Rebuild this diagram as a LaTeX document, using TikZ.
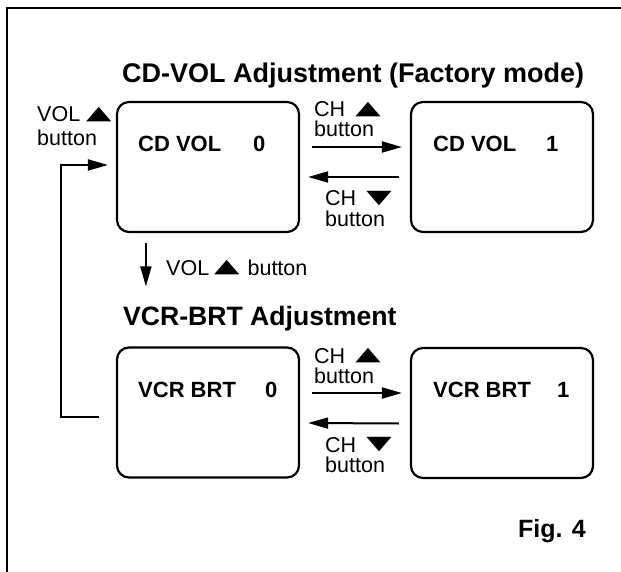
\documentclass[tikz,border=0pt]{standalone}
\usepackage{fontspec}
\setmainfont{Liberation Sans}
\newfontfamily\symfont{DejaVu Sans}
\usetikzlibrary{arrows.meta,calc}
\newcommand{\tup}{\raisebox{2.5pt}{\scalebox{1.65}[0.95]{\symfont\fontsize{20}{20}\selectfont ▲}}}
\newcommand{\tdn}{\raisebox{2.5pt}{\scalebox{1.65}[0.95]{\symfont\fontsize{20}{20}\selectfont ▼}}}
\begin{document}
\begin{tikzpicture}[x=1pt,y=-1pt,
  frame/.style={line width=2pt},
  box/.style={draw,line width=2.2pt,rounded corners=12pt,minimum width=182pt,minimum height=130pt,inner sep=0pt},
  txt/.style={inner sep=0pt,anchor=base west},
  title/.style={txt,font=\fontsize{27}{30}\selectfont\bfseries},
  boxtxt/.style={txt,font=\fontsize{22}{25}\selectfont\bfseries},
  lbl/.style={txt,font=\fontsize{21.5}{24}\selectfont,text height=15pt,text depth=3pt},
  arr/.style={line width=2pt,-{Triangle[length=20pt,width=11pt]}}]
\useasboundingbox (0,0) rectangle (621,572);
\draw[frame] (7,572) -- (7,8) -- (621,8);

% titles
\node[title] (t1) at (122,83) {CD-VOL Adjustment (Factory mode)};
\node[title,font=\fontsize{26.6}{30}\selectfont\bfseries] (t2) at (123,325) {VCR-BRT Adjustment};
\node[txt,font=\fontsize{25}{30}\selectfont\bfseries] (fig) at (518,537) {Fig. 4};

% boxes
\node[box] (cd0) at (208,167) {};
\node[box] (cd1) at (502,167) {};
\node[box] (vb0) at (208,412.5) {};
\node[box] (vb1) at (502,413) {};

% box texts
\node[boxtxt] (cd0a) at (138,152) {CD VOL};
\node[boxtxt] (cd0b) at (253,152) {0};
\node[boxtxt] (cd1a) at (433,152) {CD VOL};
\node[boxtxt] (cd1b) at (546,152) {1};
\node[boxtxt] (vb0a) at (138,397) {VCR BRT};
\node[boxtxt] (vb0b) at (265,397) {0};
\node[boxtxt] (vb1a) at (433,397) {VCR BRT};
\node[boxtxt] (vb1b) at (557,397) {1};

% labels
\node[lbl] (v1) at (37,122) {VOL\hspace{6pt}\tup};
\node[lbl] (v2) at (37,146) {button};
\node[lbl] (c1) at (314,117) {CH\hspace{10pt}\tup};
\node[lbl] (c2) at (314,137) {button};
\node[lbl] (c3) at (325,206) {CH\hspace{10pt}\tdn};
\node[lbl] (c4) at (325,226) {button};
\node[lbl] (d1) at (166,275) {VOL\hspace{5pt}\tup\hspace{8pt}button};
\node[lbl] (e1) at (314,363) {CH\hspace{10pt}\tup};
\node[lbl] (e2) at (314,383) {button};
\node[lbl] (e3) at (325,452) {CH\hspace{10pt}\tdn};
\node[lbl] (e4) at (325,472) {button};

% connectors
\draw[arr] ($(cd0.east)+(12,-20)$) -- ($(cd1.west)+(-8,-20)$);
\draw[arr] ($(cd1.west)+(-11,10)$) -- ($(cd0.east)+(8,10)$);
\draw[arr] ($(vb0.east)+(12,-19.5)$) -- ($(vb1.west)+(-8,-20)$);
\draw[arr] ($(vb1.west)+(-11,10.5)$) -- ($(vb0.east)+(8,10.5)$);
\draw[arr] ($(cd0.south west)+(30,10)$) -- ($(vb0.north west)+(30,-60)$);
\coordinate (lp) at (61,165);
\draw[arr] ($(vb0.west)+(-17,4.5)$) -| (lp) -- ($(cd0.west)+(-8,-2)$);
\end{tikzpicture}
\end{document}
